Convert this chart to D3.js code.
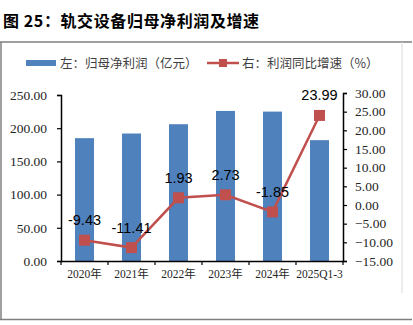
<!DOCTYPE html>
<html><head><meta charset="utf-8">
<script src="https://cdn.jsdelivr.net/npm/d3@7"></script>
<style>
body{margin:0;background:#fff;}
svg{display:block;}
</style></head>
<body>
<svg id="chart" width="413" height="325"></svg>
<script>
const categories = ["2020年","2021年","2022年","2023年","2024年","2025Q1-3"];
const profit = [185, 192, 206, 226, 225, 182];
const growth = [-9.43, -11.41, 1.93, 2.73, -1.85, 23.99];
const leftTicks = [0, 50, 100, 150, 200, 250];
const rightTicks = [-15, -10, -5, 0, 5, 10, 15, 20, 25, 30];
const title = "图 25：轨交设备归母净利润及增速";
const legendLabels = ["左：归母净利润（亿元）", "右：利润同比增速（%）"];

const svg = d3.select("#chart");
const serif = "'Liberation Serif','Times New Roman','Noto Sans CJK SC',serif";
const cjk = "'Noto Sans CJK SC',sans-serif";

// Frame
svg.append("line").attr("x1",0).attr("x2",412).attr("y1",42).attr("y2",42).attr("stroke","#7f7f7f").attr("stroke-width",1.5);
svg.append("line").attr("x1",1).attr("x2",1).attr("y1",42).attr("y2",320).attr("stroke","#7f7f7f").attr("stroke-width",1.5);
svg.append("line").attr("x1",0).attr("x2",412).attr("y1",319.5).attr("y2",319.5).attr("stroke","#7f7f7f").attr("stroke-width",1.5);
svg.append("line").attr("x1",402).attr("x2",402).attr("y1",42).attr("y2",293).attr("stroke","#d9d9d9").attr("stroke-width",1);

// Title
svg.append("text").attr("x",3).attr("y",27).text(title)
  .attr("font-family",cjk).attr("font-weight","bold").attr("font-size",16).attr("letter-spacing",0.6).attr("fill","#000");

const xc = d3.scaleBand().domain(categories).range([61,343]);
const yL = d3.scaleLinear().domain([0,250]).range([261,95]);
const yR = d3.scaleLinear().domain([-15,30]).range([261,93]);

// Bars
svg.append("g").selectAll("rect").data(profit).join("rect")
  .attr("x",(d,i)=>xc(categories[i]) + xc.bandwidth()/2 - 9.5)
  .attr("width",19)
  .attr("y",d=>yL(d)).attr("height",d=>yL(0)-yL(d))
  .attr("fill","#4F81BD");

// Axes
const axL = svg.append("g").attr("transform","translate(61,0)")
  .call(d3.axisLeft(yL).tickValues(leftTicks).tickFormat(d3.format(".2f")).tickSize(4).tickPadding(10));
const axR = svg.append("g").attr("transform","translate(343,0)")
  .call(d3.axisRight(yR).tickValues(rightTicks).tickFormat(d3.format(".2f")).tickSize(4).tickPadding(8));
const axB = svg.append("g").attr("transform","translate(0,261)")
  .call(d3.axisBottom(xc).tickSize(0).tickPadding(9));
// category boundary ticks
svg.append("g").selectAll("line").data(d3.range(categories.length+1)).join("line")
  .attr("x1",i=>61+i*xc.step()).attr("x2",i=>61+i*xc.step())
  .attr("y1",261).attr("y2",265).attr("stroke","#000").attr("stroke-width",1.2);

[axL,axR,axB].forEach(a=>{
  a.select(".domain").attr("stroke","#000").attr("stroke-width",1.5);
  a.selectAll(".tick line").attr("stroke","#000").attr("stroke-width",1.2);
  a.selectAll("text").attr("font-family",serif).attr("fill","#262626");
});
axL.selectAll("text").attr("font-size",13.5);
axR.selectAll("text").attr("font-size",13.5);
axB.selectAll("text").attr("font-size",11.5);

// Line
const line = d3.line().x((d,i)=>xc(categories[i])+xc.bandwidth()/2).y(d=>yR(d));
svg.append("path").datum(growth).attr("d",line).attr("fill","none")
  .attr("stroke","#C0504D").attr("stroke-width",2.5);
svg.append("g").selectAll("rect").data(growth).join("rect")
  .attr("x",(d,i)=>xc(categories[i])+xc.bandwidth()/2-5.5)
  .attr("y",d=>yR(d)-5.5).attr("width",11).attr("height",11)
  .attr("fill","#C0504D");
svg.append("g").selectAll("text").data(growth).join("text")
  .attr("x",(d,i)=>xc(categories[i])+xc.bandwidth()/2)
  .attr("y",d=>yR(d)-15)
  .attr("text-anchor","middle")
  .attr("font-family","'Liberation Sans',Arial,sans-serif").attr("font-size",14.5).attr("fill","#000")
  .text(d=>d.toFixed(2));

// Legend
const lg = svg.append("g");
lg.append("rect").attr("x",26).attr("y",60).attr("width",30).attr("height",6).attr("fill","#4F81BD");
lg.append("text").attr("x",60).attr("y",68).text(legendLabels[0])
  .attr("font-family",cjk).attr("font-size",12.5).attr("fill","#404040");
lg.append("line").attr("x1",207).attr("x2",239).attr("y1",63).attr("y2",63).attr("stroke","#C0504D").attr("stroke-width",2.5);
lg.append("rect").attr("x",219).attr("y",59).attr("width",8).attr("height",8).attr("fill","#C0504D");
lg.append("text").attr("x",242).attr("y",68).text(legendLabels[1])
  .attr("font-family",cjk).attr("font-size",12.5).attr("fill","#404040");
</script>
</body></html>
